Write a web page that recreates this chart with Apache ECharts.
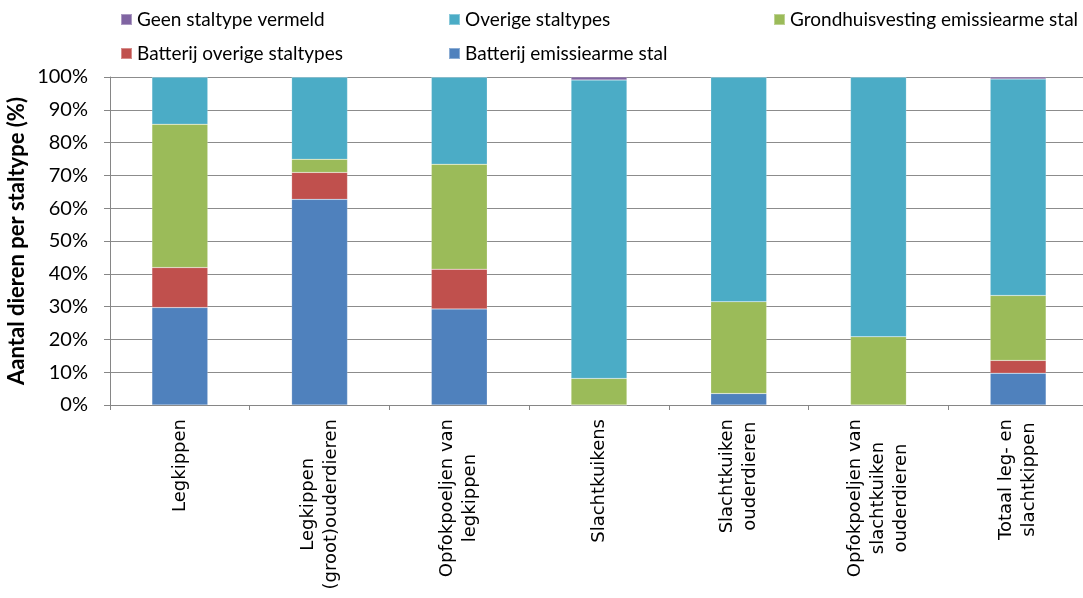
<!DOCTYPE html>
<html>
<head>
<meta charset="utf-8">
<script src="https://cdn.jsdelivr.net/npm/echarts@6/dist/echarts.min.js"></script>
<style>html,body{margin:0;padding:0;background:#fff}#c{width:1083px;height:598px}</style>
</head>
<body>
<div id="c"></div>
<script>
var categories = ['Legkippen', 'Legkippen\n(groot)ouderdieren', 'Opfokpoeljen van\nlegkippen', 'Slachtkuikens', 'Slachtkuiken\nouderdieren', 'Opfokpoeljen van\nslachtkuiken\nouderdieren', 'Totaal leg- en\nslachtkippen'];
var batterijEmissiearm = [29.7, 62.7, 29.3, 0, 3.5, 0, 9.7];
var batterijOverige = [12.2, 8.2, 12.1, 0, 0, 0, 3.9];
var grondhuisvesting = [43.7, 4.0, 32.0, 8.1, 28.0, 20.8, 19.8];
var overigeStaltypes = [14.4, 25.1, 26.6, 91.0, 68.5, 79.2, 66.0];
var geenStaltype = [0, 0, 0, 0.9, 0, 0, 0.6];
var yTicks = {min: 0, max: 100, interval: 10};

var seriesDefs = [
  {name: 'Batterij emissiearme stal', data: batterijEmissiearm, color: '#4F81BD'},
  {name: 'Batterij overige staltypes', data: batterijOverige, color: '#C0504D'},
  {name: 'Grondhuisvesting emissiearme stal', data: grondhuisvesting, color: '#9BBB59'},
  {name: 'Overige staltypes', data: overigeStaltypes, color: '#4BACC6'},
  {name: 'Geen staltype vermeld', data: geenStaltype, color: '#8064A2'}
];
var font = 'Lato, "Liberation Sans", sans-serif';
function legendAt(name, left, top) {
  return {
    data: [name], left: left, top: top, orient: 'horizontal',
    itemWidth: 11, itemHeight: 11, itemGap: 0,
    icon: 'rect',
    textStyle: {fontFamily: font, fontSize: 19, color: '#000', padding: [0, 0, 0, 0]},
    selectedMode: false
  };
}
var chart = echarts.init(document.getElementById('c'), null, {renderer: 'canvas'});
chart.setOption({
  animation: false,
  legend: [
    legendAt('Geen staltype vermeld', 115, 5),
    legendAt('Overige staltypes', 443, 5),
    legendAt('Grondhuisvesting emissiearme stal', 768, 5),
    legendAt('Batterij overige staltypes', 115, 39),
    legendAt('Batterij emissiearme stal', 443, 39)
  ],
  grid: {left: 110, top: 77, bottom: 193, right: -5, containLabel: false, outerBoundsMode: 'none'},
  xAxis: {
    type: 'category', data: categories,
    axisLine: {lineStyle: {color: '#868686', width: 1}},
    axisTick: {show: true, length: 5, lineStyle: {color: '#868686'}},
    axisLabel: {
      interval: 0, rotate: 90, margin: 14, color: '#000',
      formatter: function (v) { return v.split('\n').map(function (s) { return '{c|' + s + '}'; }).join('\n'); },
      rich: {c: {align: 'center', fontFamily: '"DejaVu Sans", sans-serif', fontSize: 18, lineHeight: 23, color: '#000'}}
    }
  },
  yAxis: {
    type: 'value', min: yTicks.min, max: yTicks.max, interval: yTicks.interval,
    name: 'Aantal dieren per staltype (%)', nameLocation: 'middle', nameGap: 82, nameRotate: 90,
    nameMoveOverlap: false,
    nameTextStyle: {fontFamily: font, fontSize: 22, fontWeight: 'bold', color: '#000'},
    axisLine: {show: true, lineStyle: {color: '#868686', width: 1}},
    axisTick: {show: true, length: 6, inside: false, lineStyle: {color: '#868686'}},
    axisLabel: {formatter: '{value}%', fontFamily: font, fontSize: 20, color: '#000', margin: 22},
    splitLine: {lineStyle: {color: '#8c8c8c', width: 1}}
  },
  series: seriesDefs.map(function (s) {
    return {
      name: s.name, type: 'bar', stack: 'total', data: s.data, barWidth: '40%',
      itemStyle: {color: s.color, borderColor: 'rgba(255,255,255,0.35)', borderWidth: 0.5}
    };
  })
});
</script>
</body>
</html>
